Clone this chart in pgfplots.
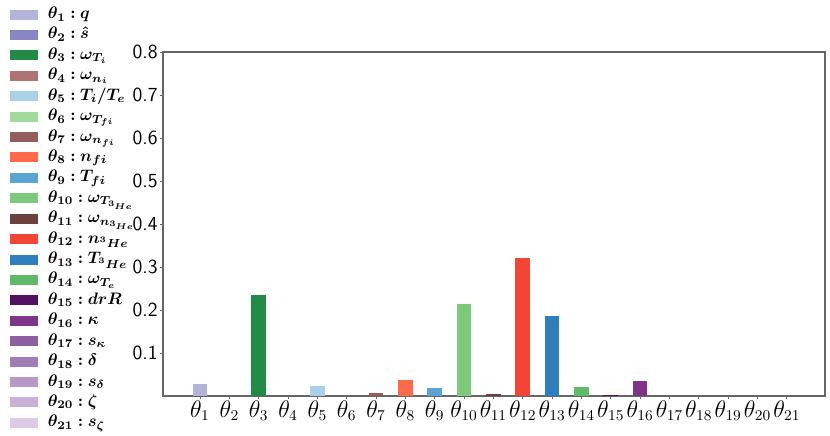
\documentclass[border=0pt]{standalone}
\usepackage{pgfplots}
\pgfplotsset{compat=1.18}
\usepackage{amsmath,bm}
\definecolor{c1}{HTML}{B4B4DA}
\definecolor{c2}{HTML}{8885C2}
\definecolor{c3}{HTML}{228A46}
\definecolor{c4}{HTML}{AE7272}
\definecolor{c5}{HTML}{A8D0E6}
\definecolor{c6}{HTML}{A2D99C}
\definecolor{c7}{HTML}{955E5E}
\definecolor{c8}{HTML}{FE6A4A}
\definecolor{c9}{HTML}{5BA3D1}
\definecolor{c10}{HTML}{7CC97C}
\definecolor{c11}{HTML}{6B403F}
\definecolor{c12}{HTML}{F24535}
\definecolor{c13}{HTML}{2F7FBF}
\definecolor{c14}{HTML}{5FBA6A}
\definecolor{c15}{HTML}{521060}
\definecolor{c16}{HTML}{7D3489}
\definecolor{c17}{HTML}{8D5EA0}
\definecolor{c18}{HTML}{A07DB3}
\definecolor{c19}{HTML}{B797C6}
\definecolor{c20}{HTML}{C9B1D6}
\definecolor{c21}{HTML}{DCC9E3}
\definecolor{spine}{HTML}{666666}
\begin{document}
\begin{tikzpicture}
\begin{axis}[
  scale only axis,
  width=397.2pt, height=206.4pt,
  xmin=-0.26, xmax=22.3,
  ymin=0, ymax=0.8,
  ytick={0.1,0.2,0.3,0.4,0.5,0.6,0.7,0.8},
  yticklabel style={font=\sffamily\fontsize{12}{14}\selectfont, inner sep=1pt},
  /pgf/number format/assume math mode=true,
  xtick={1,...,21},
  xticklabels={$\theta_{1}$,$\theta_{2}$,$\theta_{3}$,$\theta_{4}$,$\theta_{5}$,$\theta_{6}$,$\theta_{7}$,$\theta_{8}$,$\theta_{9}$,$\theta_{10}$,$\theta_{11}$,$\theta_{12}$,$\theta_{13}$,$\theta_{14}$,$\theta_{15}$,$\theta_{16}$,$\theta_{17}$,$\theta_{18}$,$\theta_{19}$,$\theta_{20}$,$\theta_{21}$},
  xticklabel style={font=\fontsize{13.5}{15}\selectfont, inner sep=0.5pt},
  tick pos=left,
  tick align=outside,
  major tick length=2pt,
  tick style={spine, line width=0.5pt},
  axis line style={spine, line width=0.7pt},
  ybar, bar width=0.5, bar shift=0pt,
  legend image code/.code={\fill[#1,draw=none] (0pt,-3pt) rectangle (16.8pt,3pt); \path (20.5pt,0pt);},
  legend cell align=left,
  legend style={at={(-0.231,1.1395)}, anchor=north west, draw=none, fill=none,
    inner sep=0pt, row sep=0pt,
    font=\fontsize{10}{12}\selectfont,
    nodes={text height=7.5pt, text depth=2.75pt, inner sep=1pt, inner xsep=2pt}},
]
\addplot[fill=c1,draw=none] coordinates {(1,0.028)}; \addlegendentry{$\bm{\theta_{1} : q}$}
\addplot[fill=c2,draw=none] coordinates {(2,0.001)}; \addlegendentry{$\bm{\theta_{2} : \hat{s}}$}
\addplot[fill=c3,draw=none] coordinates {(3,0.235)}; \addlegendentry{$\bm{\theta_{3} : \omega_{T_i}}$}
\addplot[fill=c4,draw=none] coordinates {(4,0.0005)}; \addlegendentry{$\bm{\theta_{4} : \omega_{n_i}}$}
\addplot[fill=c5,draw=none] coordinates {(5,0.023)}; \addlegendentry{$\bm{\theta_{5} : T_i/T_e}$}
\addplot[fill=c6,draw=none] coordinates {(6,0.001)}; \addlegendentry{$\bm{\theta_{6} : \omega_{T_{fi}}}$}
\addplot[fill=c7,draw=none] coordinates {(7,0.008)}; \addlegendentry{$\bm{\theta_{7} : \omega_{n_{fi}}}$}
\addplot[fill=c8,draw=none] coordinates {(8,0.037)}; \addlegendentry{$\bm{\theta_{8} : n_{fi}}$}
\addplot[fill=c9,draw=none] coordinates {(9,0.019)}; \addlegendentry{$\bm{\theta_{9} : T_{fi}}$}
\addplot[fill=c10,draw=none] coordinates {(10,0.214)}; \addlegendentry{$\bm{\theta_{10} : \omega_{T_{3_{He}}}}$}
\addplot[fill=c11,draw=none] coordinates {(11,0.005)}; \addlegendentry{$\bm{\theta_{11} : \omega_{n_{3_{He}}}}$}
\addplot[fill=c12,draw=none] coordinates {(12,0.321)}; \addlegendentry{$\bm{\theta_{12} : n_{{}^{3}He}}$}
\addplot[fill=c13,draw=none] coordinates {(13,0.186)}; \addlegendentry{$\bm{\theta_{13} : T_{{}^{3}He}}$}
\addplot[fill=c14,draw=none] coordinates {(14,0.021)}; \addlegendentry{$\bm{\theta_{14} : \omega_{T_e}}$}
\addplot[fill=c15,draw=none] coordinates {(15,0.002)}; \addlegendentry{$\bm{\theta_{15} : drR}$}
\addplot[fill=c16,draw=none] coordinates {(16,0.035)}; \addlegendentry{$\bm{\theta_{16} : \kappa}$}
\addplot[fill=c17,draw=none] coordinates {(17,0.0004)}; \addlegendentry{$\bm{\theta_{17} : s_{\kappa}}$}
\addplot[fill=c18,draw=none] coordinates {(18,0.0004)}; \addlegendentry{$\bm{\theta_{18} : \delta}$}
\addplot[fill=c19,draw=none] coordinates {(19,0.0003)}; \addlegendentry{$\bm{\theta_{19} : s_{\delta}}$}
\addplot[fill=c20,draw=none] coordinates {(20,0.0003)}; \addlegendentry{$\bm{\theta_{20} : \zeta}$}
\addplot[fill=c21,draw=none] coordinates {(21,0.0003)}; \addlegendentry{$\bm{\theta_{21} : s_{\zeta}}$}
\end{axis}
\path[use as bounding box] (-97.8pt,-24pt) rectangle (400.2pt,237.6pt);
\end{tikzpicture}
\end{document}
